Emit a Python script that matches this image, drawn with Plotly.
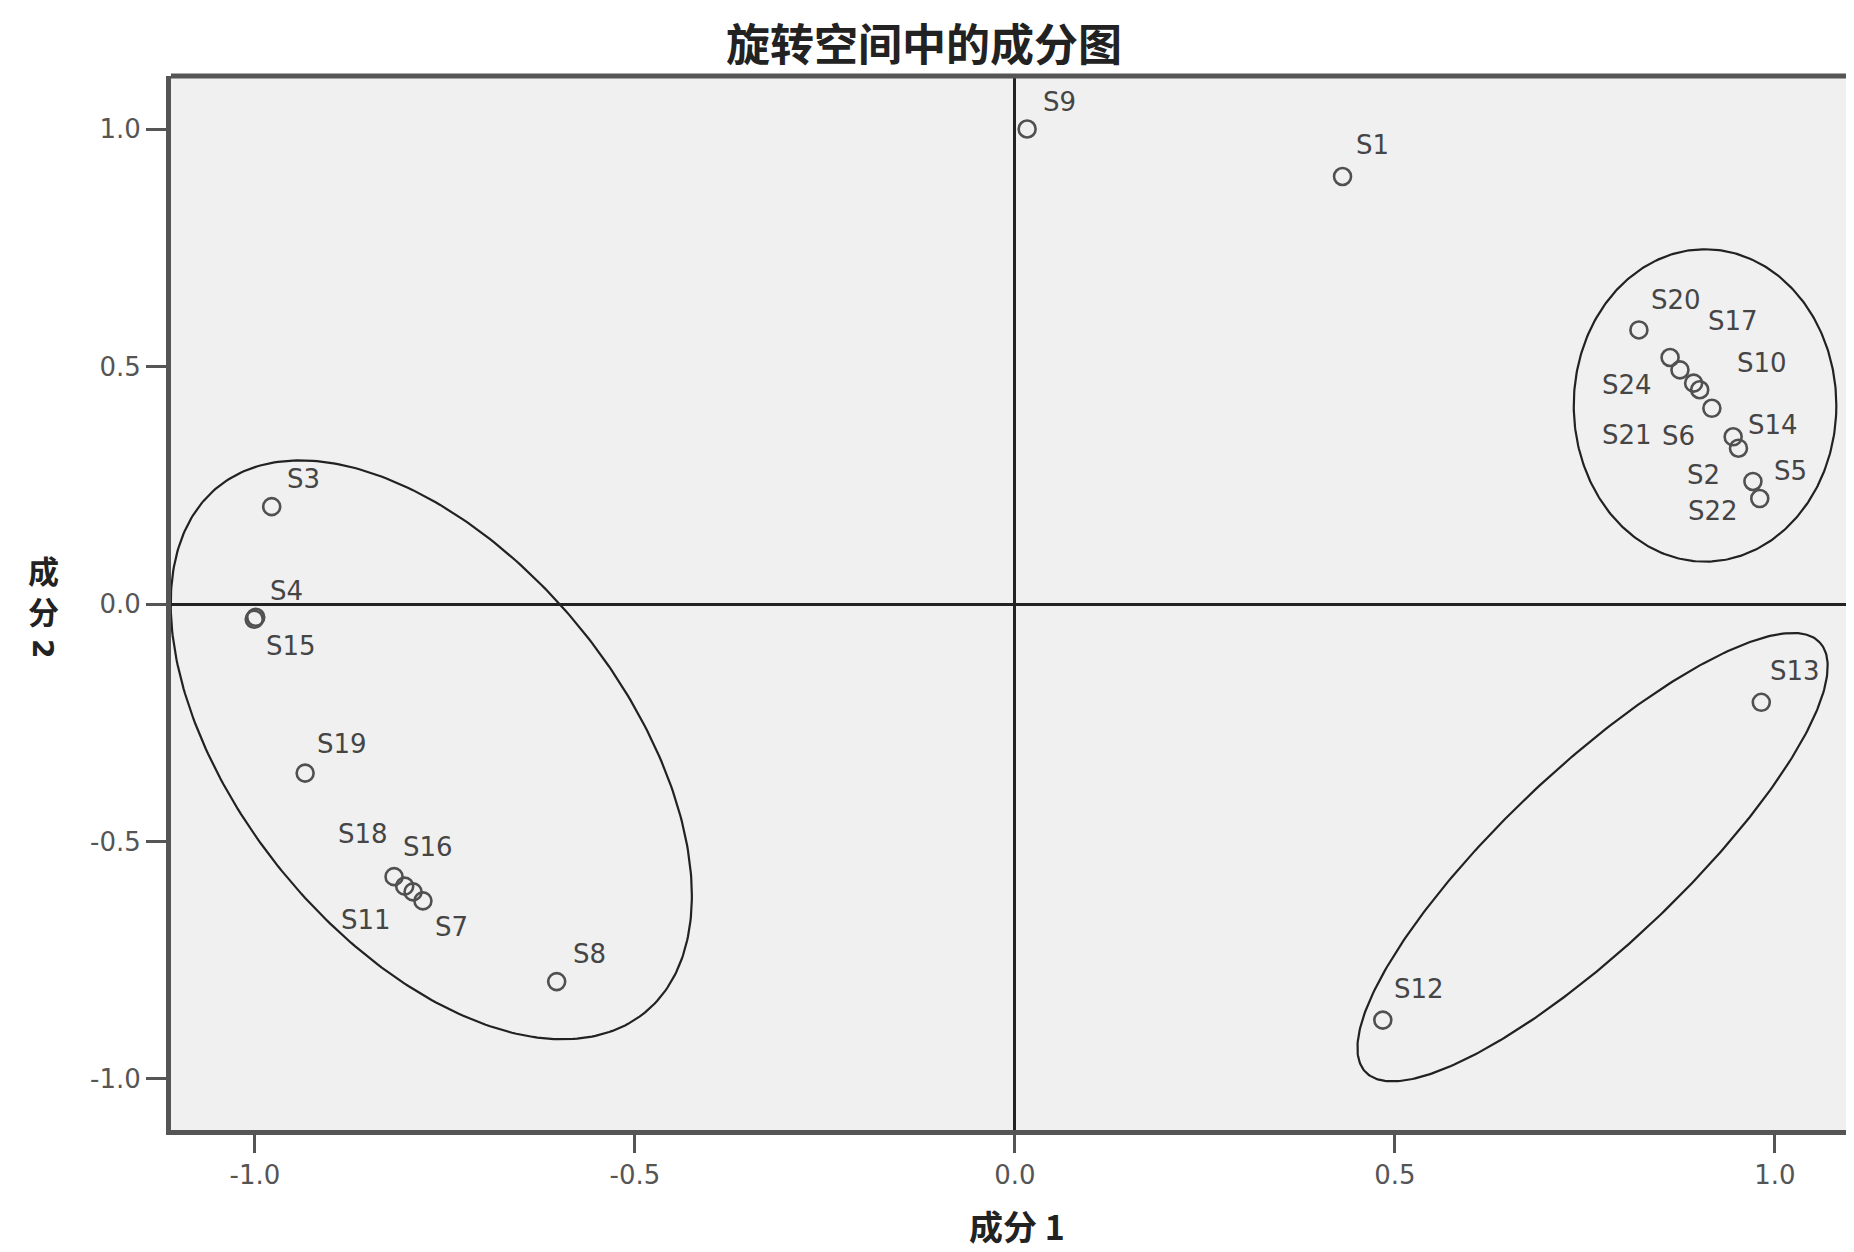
import numpy as np
import plotly.graph_objects as go

# ---------------- data ----------------
labels = ["S1", "S2", "S3", "S4", "S5", "S6", "S7", "S8", "S9", "S10", "S11", "S12",
          "S13", "S14", "S15", "S16", "S17", "S18", "S19", "S20", "S21", "S22", "S24"]
component1 = [0.431, 0.952, -0.978, -0.999, 0.971, 0.917, -0.779, -0.603, 0.016, 0.893, -0.792, 0.484,
              0.982, 0.945, -1.001, -0.803, 0.862, -0.817, -0.934, 0.821, 0.901, 0.980, 0.875]
component2 = [0.900, 0.328, 0.205, -0.028, 0.258, 0.412, -0.625, -0.795, 1.000, 0.465, -0.606, -0.876,
              -0.207, 0.352, -0.032, -0.594, 0.519, -0.574, -0.356, 0.577, 0.451, 0.222, 0.493]
x_ticks = [-1.0, -0.5, 0.0, 0.5, 1.0]
y_ticks = [-1.0, -0.5, 0.0, 0.5, 1.0]
x_tick_text = ["-1.0", "-0.5", "0.0", "0.5", "1.0"]
y_tick_text = ["-1.0", "-0.5", "0.0", "0.5", "1.0"]

# ---------------- style ----------------
# label offsets in pixels (right, up)
label_shift = {
    "S1": (30, 32), "S2": (-35, -27), "S3": (32, 28), "S4": (31, 26), "S5": (38, 10),
    "S6": (-33, -28), "S7": (29, -26), "S8": (33, 28), "S9": (32, 27), "S10": (68, 20),
    "S11": (-47, -28), "S12": (36, 31), "S13": (34, 31), "S14": (40, 12), "S15": (37, -27),
    "S16": (23, 39), "S17": (63, 36), "S18": (-31, 43), "S19": (37, 29), "S20": (37, 30),
    "S21": (-73, -45), "S22": (-47, -12), "S24": (-53, -15),
}
# group outlines: centre (data), semi-axes (px), rotation (deg, counter-clockwise)
ellipses = [
    (-0.768, -0.307, 338.6, 192.4, -50.9),
    (0.908, 0.418, 131.3, 156.2, 0.0),
    (0.760, -0.533, 312.6, 88.5, 43.4),
]

# the page body has an 8px margin, so the figure is 8px smaller than the window
W, H = 1846, 1244
ML, MR, MT, MB = 163, 0, 68, 122
x_range = [-1.1105, 1.104]
y_range = [-1.1074, 1.1116]
px_per_x = (W - ML - MR) / (x_range[1] - x_range[0])
px_per_y = (H - MT - MB) / (y_range[1] - y_range[0])

fig = go.Figure()

t = np.linspace(0, 2 * np.pi, 361)
for cx, cy, a, b, ang in ellipses:
    th = np.deg2rad(ang)
    dx = a * np.cos(t) * np.cos(th) - b * np.sin(t) * np.sin(th)
    dy = a * np.cos(t) * np.sin(th) + b * np.sin(t) * np.cos(th)
    fig.add_trace(go.Scatter(x=cx + dx / px_per_x, y=cy + dy / px_per_y, mode="lines",
                             line=dict(color="#222222", width=2.2), hoverinfo="skip",
                             showlegend=False))

fig.add_trace(go.Scatter(
    x=component1, y=component2, mode="markers", text=labels,
    marker=dict(symbol="circle-open", size=17, line=dict(width=2.6), color="#505050"),
    showlegend=False,
))

for name, xv, yv in zip(labels, component1, component2):
    sx, sy = label_shift[name]
    fig.add_annotation(x=xv, y=yv, text=name, showarrow=False, xshift=sx, yshift=sy,
                       font=dict(family="DejaVu Sans", size=26, color="#454545"))

TITLE_FONT = "Noto Sans CJK SC"
# chart title
fig.add_annotation(xref="paper", yref="paper", x=0, y=1, xanchor="center", yanchor="middle",
                   xshift=753, yshift=34, text="<b>旋转空间中的成分图</b>", showarrow=False,
                   font=dict(family=TITLE_FONT, size=44, color="#222222"))
# x axis title
fig.add_annotation(xref="paper", yref="paper", x=0, y=0, xanchor="center", yanchor="middle",
                   xshift=846, yshift=-95, text="<b>成分 1</b>", showarrow=False,
                   font=dict(family=TITLE_FONT, size=34, color="#222222"))
# y axis title, stacked vertically
for ch, dy, ang, fam, sz in [("成", -493, 0, TITLE_FONT, 31), ("分", -534, 0, TITLE_FONT, 31),
                             ("2", -572, 90, "DejaVu Sans", 28)]:
    fig.add_annotation(xref="paper", yref="paper", x=0, y=1, xanchor="center", yanchor="middle",
                       xshift=-128, yshift=dy, text="<b>" + ch + "</b>", textangle=ang,
                       showarrow=False, font=dict(family=fam, size=sz, color="#222222"))

# top frame line
fig.add_shape(type="line", xref="paper", yref="paper", x0=0, x1=1, y0=1, y1=1,
              line=dict(color="#555555", width=5))

fig.update_layout(
    width=W, height=H,
    margin=dict(l=ML, r=MR, t=MT, b=MB),
    paper_bgcolor="white", plot_bgcolor="#f0f0f0",
    xaxis=dict(range=x_range, tickvals=x_ticks, ticktext=x_tick_text, showgrid=False,
               zeroline=True, zerolinecolor="#222222", zerolinewidth=2.5,
               showline=True, linecolor="#555555", linewidth=5, mirror=False,
               ticks="outside", ticklen=18, tickwidth=3, tickcolor="#555555",
               tickfont=dict(family="DejaVu Sans", size=26, color="#555555")),
    yaxis=dict(range=y_range, tickvals=y_ticks, ticktext=y_tick_text, showgrid=False,
               zeroline=True, zerolinecolor="#222222", zerolinewidth=2.5,
               showline=True, linecolor="#555555", linewidth=5, mirror=False,
               ticks="outside", ticklen=20, tickwidth=3, tickcolor="#555555",
               tickfont=dict(family="DejaVu Sans", size=26, color="#555555")),
)

fig.write_html("out.html")
